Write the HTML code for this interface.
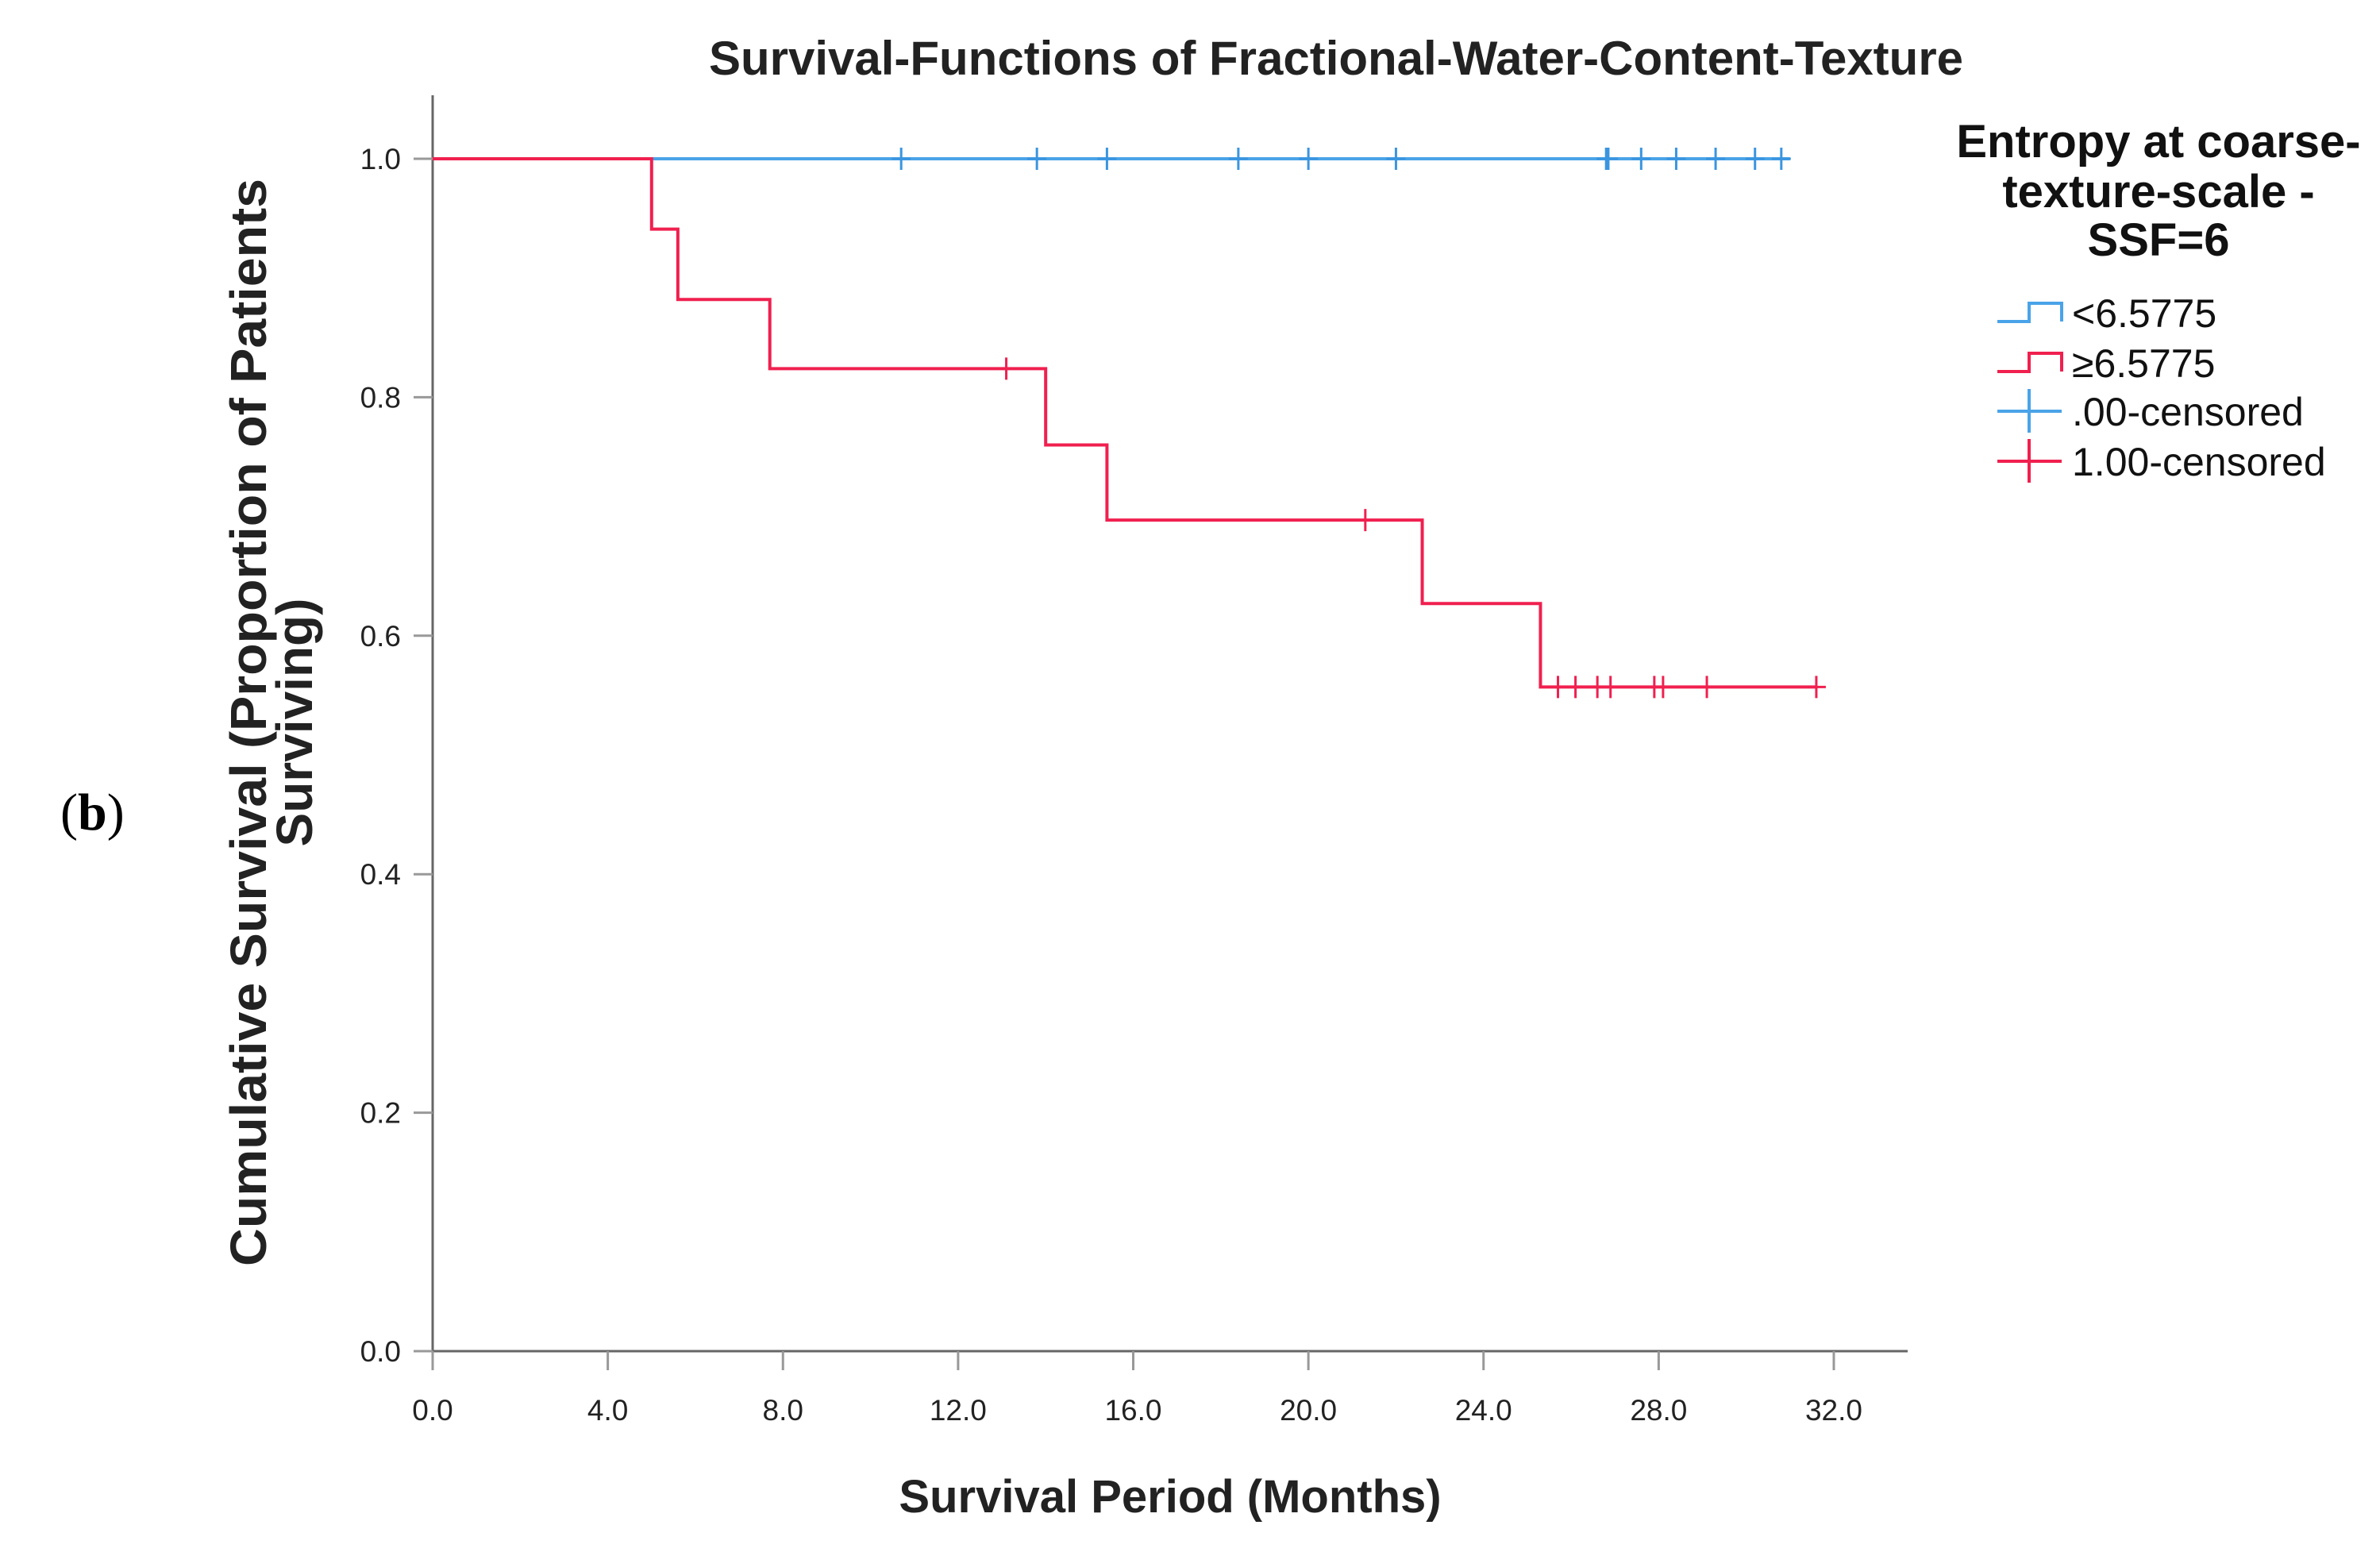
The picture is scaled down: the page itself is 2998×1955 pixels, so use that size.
<!DOCTYPE html>
<html><head><meta charset="utf-8"><style>
body{margin:0;background:#fff}
svg{display:block}
text{font-family:"Liberation Sans",sans-serif}
</style></head><body>
<svg id="chart" width="2998" height="1955" viewBox="0 0 2998 1955" xmlns="http://www.w3.org/2000/svg">
<text x="76" y="1045" font-size="66" style="font-family:'Liberation Serif',serif">(<tspan font-weight="bold">b</tspan>)</text>
<text x="1683" y="94" text-anchor="middle" font-size="60" font-weight="bold" fill="#222">Survival-Functions of Fractional-Water-Content-Texture</text>
<g id="axes"></g>
<g id="series"></g>
<text x="1474" y="1905" text-anchor="middle" font-size="58" font-weight="bold" fill="#222">Survival Period (Months)</text>
<g transform="translate(315,910) rotate(-90)">
<text x="0" y="20" text-anchor="middle" font-size="64" font-weight="bold" fill="#222" textLength="1370" lengthAdjust="spacingAndGlyphs">Cumulative Survival (Proportion of Patients</text>
<text x="0" y="78" text-anchor="middle" font-size="64" font-weight="bold" fill="#222">Surviving)</text>
</g>
<g>
<text x="2719" y="198" text-anchor="middle" font-size="58" font-weight="bold" fill="#111">Entropy at coarse-</text>
<text x="2719" y="261" text-anchor="middle" font-size="58" font-weight="bold" fill="#111">texture-scale -</text>
<text x="2719" y="322" text-anchor="middle" font-size="58" font-weight="bold" fill="#111">SSF=6</text>
<g><path d="M2516 405 H2556 V382 H2597 V405" fill="none" stroke="#4aa3e8" stroke-width="4"/><text x="2610" y="412" font-size="50" fill="#111">&lt;6.5775</text></g>
<g><path d="M2516 468 H2556 V445 H2597 V468" fill="none" stroke="#f0204f" stroke-width="4"/><text x="2610" y="475" font-size="50" fill="#111">≥6.5775</text></g>
<g><path d="M2516 518 H2597 M2556 490 V545" stroke="#4aa3e8" stroke-width="4"/><text x="2610" y="536" font-size="50" fill="#111">.00-censored</text></g>
<g><path d="M2516 581 H2597 M2556 553 V608" stroke="#f0204f" stroke-width="4"/><text x="2610" y="599" font-size="50" fill="#111">1.00-censored</text></g>
</g>
</svg>
<script>
const xTicks=[0,4,8,12,16,20,24,28,32];
const yTicks=[0,0.2,0.4,0.6,0.8,1.0];
const blueTimes=[0,31.0];
const blueSurv=[1.0,1.0];
const blueCensor=[10.7,13.8,15.4,18.4,20.0,22.0,26.8,26.85,27.6,28.4,29.3,30.2,30.8];
const redTimes=[0,5.0,5.6,7.7,14.0,15.4,22.6,25.3,31.6];
const redSurv=[1.0,0.941,0.882,0.824,0.760,0.697,0.627,0.557,0.557];
const redCensor=[13.1,21.3,25.7,26.1,26.6,26.9,27.9,28.1,29.1,31.6];

const X=v=>545+v*(2310-545)/32;
const Y=v=>1702-v*(1702-200);
const NS="http://www.w3.org/2000/svg";
function mk(tag,attrs,parent){const e=document.createElementNS(NS,tag);for(const k in attrs)e.setAttribute(k,attrs[k]);parent.appendChild(e);return e;}
const ax=document.getElementById('axes');
const yl=mk('line',{x1:545,y1:120,x2:545,y2:1702,stroke:'#666','stroke-width':3},ax);


const xl=mk('line',{x1:545,y1:1702,x2:2403,y2:1702,stroke:'#666','stroke-width':3},ax);


xTicks.forEach(t=>{
  mk('line',{x1:X(t),y1:1702,x2:X(t),y2:1726,stroke:'#999','stroke-width':3},ax);
  const tx=mk('text',{x:X(t),y:1789,'text-anchor':'middle','font-size':37,fill:'#222'},ax);
  tx.textContent=t.toFixed(1);
  
  
});
yTicks.forEach(t=>{
  mk('line',{x1:521,y1:Y(t),x2:545,y2:Y(t),stroke:'#999','stroke-width':3},ax);
  const tx=mk('text',{x:505,y:Y(t)+13,'text-anchor':'end','font-size':37,fill:'#222'},ax);
  tx.textContent=t.toFixed(1);
  
  
});
const sg=document.getElementById('series');
function stepPath(ts,ss){let d='M'+X(ts[0])+' '+Y(ss[0]);for(let i=1;i<ts.length;i++){d+=' H'+X(ts[i])+' V'+Y(ss[i]);}return d;}
function survAt(ts,ss,t){let s=ss[0];for(let i=0;i<ts.length;i++){if(ts[i]<=t)s=ss[i];}return s;}
const bp=mk('path',{d:stepPath(blueTimes,blueSurv),fill:'none',stroke:'#4aa3e8','stroke-width':4},sg);


const rp=mk('path',{d:stepPath(redTimes,redSurv),fill:'none',stroke:'#f0204f','stroke-width':4},sg);


blueCensor.forEach(t=>{
  const y=Y(survAt(blueTimes,blueSurv,t));
  const c=mk('path',{d:`M${X(t)} ${y-14} V${y+14} M${X(t)-12} ${y} H${X(t)+12}`,stroke:'#3a95e0','stroke-width':3},sg);
  
  
});
redCensor.forEach(t=>{
  const y=Y(survAt(redTimes,redSurv,t));
  const c=mk('path',{d:`M${X(t)} ${y-14} V${y+14} M${X(t)-12} ${y} H${X(t)+12}`,stroke:'#f0204f','stroke-width':3},sg);
  
  
});
</script>
</body></html>
